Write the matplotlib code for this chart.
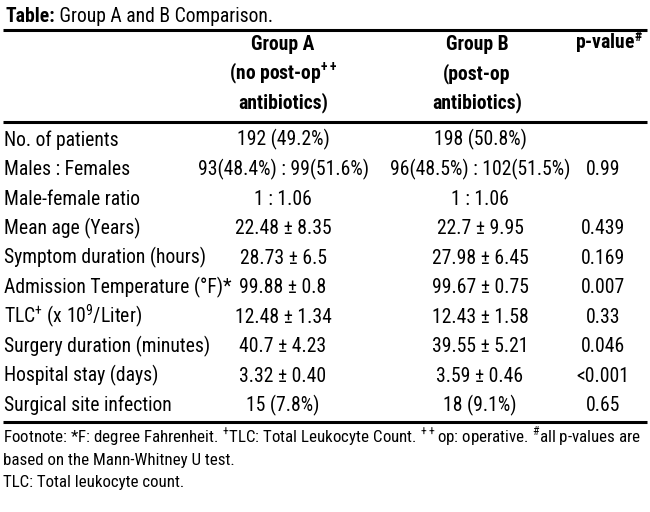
import matplotlib
matplotlib.use('Agg')
import matplotlib.pyplot as plt
from matplotlib import font_manager

# the original is set in a condensed sans; use the narrowest face we can find
fonts = font_manager.fontManager.ttflist
names = {f.name for f in fonts}
condensed = {f.name for f in fonts
             if f.stretch in ('condensed', 'semi-condensed', 'extra-condensed', 'ultra-condensed')
             or (isinstance(f.stretch, int) and f.stretch < 100)}
FONT, STRETCH = 'Roboto', 'normal'
for cand in ['Liberation Sans Narrow', 'Roboto Condensed', 'Open Sans Condensed',
             'Noto Sans Condensed', 'DejaVu Sans Condensed']:
    if cand in names:
        FONT = cand
        break
else:
    for cand in ['Noto Sans', 'DejaVu Sans', 'Open Sans', 'Roboto', 'Inter']:
        if cand in condensed:
            FONT, STRETCH = cand, 'condensed'
            break
plt.rcParams['font.family'] = [FONT, 'DejaVu Sans']
plt.rcParams['font.stretch'] = STRETCH

title_bold = 'Table:'
title_rest = ' Group A and B Comparison.'

head_a = ['Group A', r'(no post-op$^{\mathdefault{++}}$', 'antibiotics)']
head_b = ['Group B', '(post-op', 'antibiotics)']
head_p = r'p-value$^{\mathdefault{\#}}$'

labels = ['No. of patients',
          'Males : Females',
          'Male-female ratio',
          'Mean age (Years)',
          'Symptom duration (hours)',
          'Admission Temperature (°F)*',
          r'TLC$^{\mathdefault{+}}$ (x 10$^{\mathdefault{9}}$/Liter)',
          'Surgery duration (minutes)',
          'Hospital stay (days)',
          'Surgical site infection']
group_a = ['192 (49.2%)', '93(48.4%) : 99(51.6%)', '1 : 1.06', '22.48 ± 8.35',
           '28.73 ± 6.5', '99.88 ± 0.8', '12.48 ± 1.34', '40.7 ± 4.23',
           '3.32 ± 0.40', '15 (7.8%)']
group_b = ['198 (50.8%)', '96(48.5%) : 102(51.5%)', '1 : 1.06', '22.7 ± 9.95',
           '27.98 ± 6.45', '99.67 ± 0.75', '12.43 ± 1.58', '39.55 ± 5.21',
           '3.59 ± 0.46', '18 (9.1%)']
p_values = ['', '0.99', '', '0.439', '0.169', '0.007', '0.33', '0.046',
            '<0.001', '0.65']

footnotes = [r'Footnote: *F: degree Fahrenheit. $^{\mathdefault{+}}$TLC: Total Leukocyte Count. '
             r'$^{\mathdefault{++}}$op: operative. $^{\mathdefault{\#}}$all p-values are',
             'based on the Mann-Whitney U test.',
             'TLC: Total leukocyte count.']

fig = plt.figure(figsize=(6.5, 5.12), dpi=100)
ax = fig.add_axes([0, 0, 1, 1])
ax.set_xlim(0, 650)
ax.set_ylim(512, 0)
ax.axis('off')

fs = 14.4
fs_note = 12.3
renderer = fig.canvas.get_renderer()


def fit(text, size, target, **kw):
    # shrink the size if this face is wider than the original one
    t = ax.text(0, 0, text, fontsize=size, **kw)
    w = t.get_window_extent(renderer).width
    t.remove()
    return size * min(1.0, target / w)


fs = fit(labels[5], fs, 228)
fs_note = fit(footnotes[0], fs_note, 638)
xa, xb, xp = 283, 480, 603

# title
t1 = ax.text(5, 22.5, title_bold, fontsize=fs, fontweight='bold', va='baseline')
ax.annotate(title_rest, xy=(1, 0), xycoords=t1, va='bottom', fontsize=fs)

# rules
for yy in [30, 122, 421.5]:
    ax.plot([3, 647], [yy, yy], color='black', lw=2.2, solid_capstyle='butt')

# header
for i in range(3):
    yb = 50 + 29 * i
    ax.text(xa, yb, head_a[i], fontsize=fs, fontweight='bold', ha='center', va='baseline')
    ax.text(xb - 3, yb, head_b[i], fontsize=fs, fontweight='bold', ha='center', va='baseline')
ax.text(643, 50, head_p, fontsize=fs, fontweight='bold', ha='right', va='baseline')

# body
for i in range(len(labels)):
    yb = 145.7 + 29.5 * i
    ax.text(4, yb, labels[i], fontsize=fs, va='baseline')
    ax.text(xa, yb, group_a[i], fontsize=fs, ha='center', va='baseline')
    ax.text(xb, yb, group_b[i], fontsize=fs, ha='center', va='baseline')
    ax.text(xp, yb, p_values[i], fontsize=fs, ha='center', va='baseline')

# notes
for i, note in enumerate(footnotes):
    ax.text(3, 442.3 + 22.2 * i, note, fontsize=fs_note, va='baseline')

fig.savefig('out.png', dpi=100)
